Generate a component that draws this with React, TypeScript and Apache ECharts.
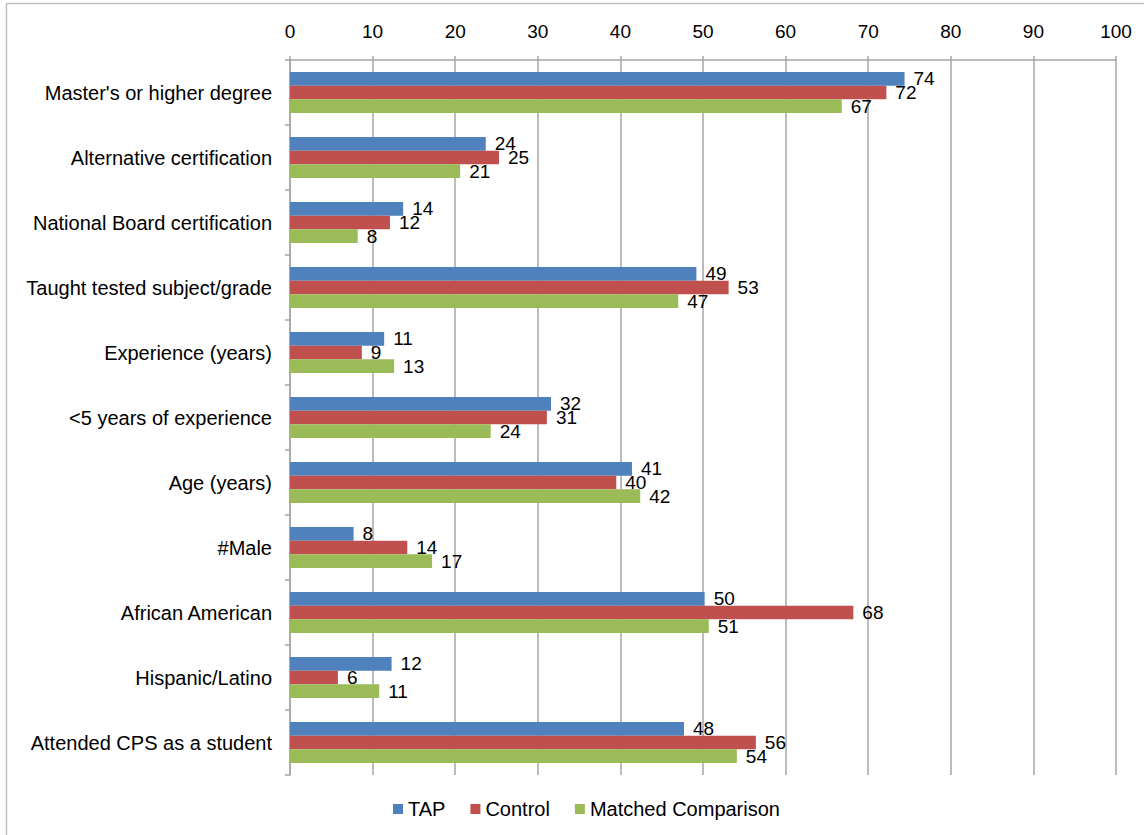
import React, { useEffect, useRef } from "react";
import * as echarts from "echarts";

const categories = [
  "Master's or higher degree",
  "Alternative certification",
  "National Board certification",
  "Taught tested subject/grade",
  "Experience (years)",
  "<5 years of experience",
  "Age (years)",
  "#Male",
  "African American",
  "Hispanic/Latino",
  "Attended CPS as a student",
];
const tapValues = [74.4, 23.7, 13.7, 49.2, 11.4, 31.6, 41.4, 7.7, 50.2, 12.3, 47.7];
const controlValues = [72.2, 25.3, 12.1, 53.1, 8.7, 31.1, 39.5, 14.2, 68.2, 5.8, 56.4];
const matchedValues = [66.8, 20.6, 8.2, 47.0, 12.6, 24.3, 42.4, 17.2, 50.7, 10.8, 54.1];
const seriesNames = ["TAP", "Control", "Matched Comparison"];
const colors = ["#4F81BD", "#C0504D", "#9BBB59"];

const FONT = "'Liberation Sans', Arial, sans-serif";

export default function App() {
  const ref = useRef<HTMLDivElement>(null);
  useEffect(() => {
    document.body.style.margin = "0";
    const chart = echarts.init(ref.current!, null, { renderer: "svg" });
    const data = [tapValues, controlValues, matchedValues];
    chart.setOption({
      animation: false,
      textStyle: { fontFamily: FONT },
      graphic: [
        {
          type: "rect",
          shape: { x: 6.5, y: 3.5, width: 1160, height: 860 },
          style: { fill: "none", stroke: "#BFBFBF", lineWidth: 1.5 },
          silent: true,
        },
      ],
      legend: {
        bottom: 11,
        left: 388,
        itemWidth: 10,
        itemHeight: 10,
        itemGap: 25,
        icon: "rect",
        textStyle: { fontSize: 20, color: "#000", fontFamily: FONT },
        data: seriesNames,
      },
      grid: { left: 290, right: 28, top: 60, bottom: 60, containLabel: false },
      xAxis: {
        type: "value",
        position: "top",
        min: 0,
        max: 100,
        interval: 10,
        axisLine: { show: true, lineStyle: { color: "#A6A6A6", width: 1.5 } },
        axisTick: { show: true, length: 4, lineStyle: { color: "#A6A6A6", width: 1.5 } },
        splitLine: { show: true, lineStyle: { color: "#A6A6A6", width: 1.5 } },
        axisLabel: { fontSize: 19, color: "#000", margin: 19, fontFamily: FONT },
      },
      yAxis: {
        type: "category",
        inverse: true,
        data: categories,
        axisLine: { show: true, lineStyle: { color: "#A6A6A6", width: 1.5 } },
        axisTick: { show: true, length: 5, lineStyle: { color: "#A6A6A6", width: 1.5 } },
        axisLabel: { fontSize: 20, color: "#000", margin: 18, fontFamily: FONT },
      },
      series: seriesNames.map((name, i) => ({
        name,
        type: "bar",
        data: data[i],
        barGap: "0%",
        barCategoryGap: "37%",
        itemStyle: { color: colors[i] },
        label: {
          show: true,
          position: "right",
          distance: 9,
          fontSize: 19,
          color: "#000",
          fontFamily: FONT,
          formatter: (p: any) => String(Math.round(p.value)),
        },
      })),
    });
    return () => chart.dispose();
  }, []);
  return <div ref={ref} style={{ width: 1144, height: 835 }} />;
}
